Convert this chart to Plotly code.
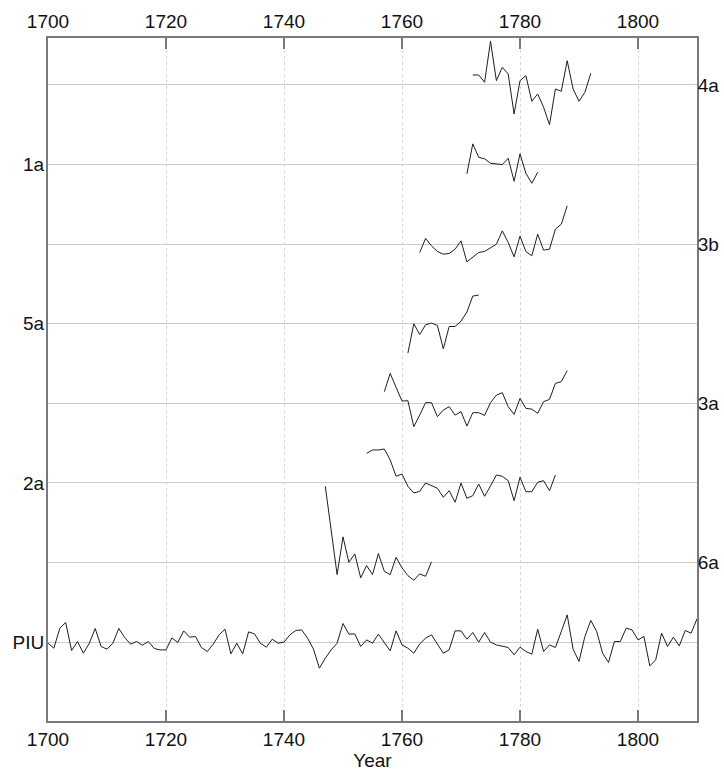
import plotly.graph_objects as go

# Row order (bottom to top)
rows = ["PIU", "6a", "2a", "3a", "5a", "3b", "1a", "4a"]
left_labels = ["PIU", "2a", "5a", "1a"]
right_labels = ["6a", "3a", "3b", "4a"]

# Start years and anomaly values (same arbitrary units for all series)
piu_start = 1700
piu = [-1, -6, 14, 19.7, -8.3, 0.7, -11, -1, 13.7, -4.3,
       -7, -1, 13.7, 4.7, -2, 0.7, -3, 0.7, -6.3, -7.7,
       -7.7, 4.3, -0.3, 11.3, 5, 5.7, -5.3, -9.3, -2, 7.3,
       13, -11.7, -1, -11.7, 10.3, 8.3, -1, -5, 3, -1,
       0, 7.3, 11.7, 12.3, 4, -7, -26, -16, -7.7, -1,
       18.7, 8, 8.3, -4.3, 2.3, -1, 8, -1, -8.7, 11.3,
       -2.7, -6, -11, -1.7, 4, 7.3, -2, -11, -7.7, 11.3,
       11.3, 3, 9.7, 0, 9.7, 0, -2.7, -4.3, -5.3, -12.7,
       -5, -9.3, -12, 13, -9.3, -2.7, -5.3, 10.7, 27.3, -7,
       -19.3, 5.7, 21.7, 10.7, -11, -20.3, 0.7, 0.7, 14, 12.3,
       2.3, 5.7, -23.7, -17.7, 9, -4.3, 5, -3.7, 11.7, 9,
       23.3]

s6a_start = 1747
s6a = [76.3, 29.7, -12, 25.7, 0.3, 8.7, -15.3, -3, -12, 9,
       -8.7, -12, 5.3, -5.3, -13, -17.7, -11.3, -13.7, 0.7]

s2a_start = 1754
s2a = [29.7, 33, 33, 34, 23, 6.7, 9, -3.3, -10, -8.3,
       0, -2.7, -5.3, -14.3, -7.7, -19.3, 0, -15.3, -12.7, -1,
       -13.3, -3, 8, 6.7, 2.3, -17.7, 5.7, -8.7, -8.7, 0.7,
       2.3, -7.7, 8]

s3a_start = 1757
s3a = [11.7, 30, 16, 2.3, 2.7, -23.3, -11.7, 0.7, 0.7, -13.3,
       -6.7, -3.3, -11.7, -8.3, -22.7, -9.3, -9.3, -12, 0.7, 8.3,
       10.7, -3.3, -11, 5, -5, -5.7, -10, 1.7, 4, 20,
       21.7, 32.7]

s5a_start = 1761
s5a = [-29.3, 0, -10.7, -1, 0.7, -1.7, -25, -2.7, -2.7, 2.7,
       11.7, 27.7, 28.7]

s3b_start = 1763
s3b = [-8.3, 5.7, -1.7, -7.3, -10, -9.3, -5, 3.3, -17.7, -13.3,
       -8.3, -7.3, -3.3, 0, 13.3, 1.7, -12.7, 8, -7.3, -11.7,
       10, -6, -5, 15, 20, 38.3]

s1a_start = 1771
s1a = [-9.3, 20.7, 7.3, 5.7, 1.3, 0.7, 0, 6.3, -16.7, 10.7,
       -8.7, -18.7, -7.7]

s4a_start = 1772
s4a = [10, 10, 2.7, 43.7, 4.3, 17.7, 11, -29, 4.3, 9.3,
       -16.3, -9, -22.3, -39.7, -4, -6.3, 24.3, -4, -16.3, -7.3,
       11.7]

x_ticks = [1700, 1720, 1740, 1760, 1780, 1800]

series = {
    "PIU": (piu_start, piu),
    "6a": (s6a_start, s6a),
    "2a": (s2a_start, s2a),
    "3a": (s3a_start, s3a),
    "5a": (s5a_start, s5a),
    "3b": (s3b_start, s3b),
    "1a": (s1a_start, s1a),
    "4a": (s4a_start, s4a),
}

UNITS_PER_ROW = 79.6
FONT = "Liberation Sans, Arial, sans-serif"
FRAME = "#7a7a7a"

fig = go.Figure()
for name, (start, vals) in series.items():
    base = rows.index(name)
    xs = [start + i for i in range(len(vals))]
    ys = [base + v / UNITS_PER_ROW for v in vals]
    fig.add_trace(go.Scatter(x=xs, y=ys, mode="lines",
                             line=dict(color="#1e1e1e", width=1),
                             showlegend=False, hoverinfo="skip",
                             cliponaxis=True))

# invisible trace to activate the secondary axes
fig.add_trace(go.Scatter(x=[1750], y=[0], xaxis="x2", yaxis="y2",
                         mode="markers", marker=dict(opacity=0),
                         showlegend=False, hoverinfo="skip"))

yrange = [-0.99, 7.59]
xrange = [1700, 1810]

fig.update_layout(
    width=724, height=771,
    margin=dict(l=48, r=27, t=38, b=50, autoexpand=False),
    paper_bgcolor="white", plot_bgcolor="white",
    font=dict(family=FONT, size=19, color="#111111"),
    xaxis=dict(range=xrange, tickvals=x_ticks, ticks="inside",
               ticklen=11, tickwidth=2, tickcolor=FRAME,
               showgrid=True, gridcolor="#d6d6d6", griddash="dot", gridwidth=1,
               showline=True, linecolor=FRAME, linewidth=2,
               zeroline=False, automargin=False,
               title=dict(text="Year", font=dict(size=19), standoff=6)),
    xaxis2=dict(range=xrange, tickvals=x_ticks, ticks="inside",
                ticklen=11, tickwidth=2, tickcolor=FRAME,
                overlaying="x", side="top", matches="x",
                showgrid=False, showline=True, linecolor=FRAME, linewidth=2,
                zeroline=False, automargin=False),
    yaxis=dict(range=yrange, tickvals=[rows.index(r) for r in left_labels],
               ticktext=left_labels, ticks="",
               showgrid=True, gridcolor="#cccccc", gridwidth=1,
               showline=True, linecolor=FRAME, linewidth=2,
               zeroline=False, ticklabelstandoff=-2, automargin=False),
    yaxis2=dict(range=yrange, tickvals=[rows.index(r) for r in right_labels],
                ticktext=right_labels, ticks="",
                overlaying="y", side="right", matches="y",
                showgrid=True, gridcolor="#cccccc", gridwidth=1,
                showline=True, linecolor=FRAME, linewidth=2,
                zeroline=False, ticklabelstandoff=-5, automargin=False),
)

fig.write_html("out.html", config={"displayModeBar": False},
               post_script="document.body.style.margin='0';")
